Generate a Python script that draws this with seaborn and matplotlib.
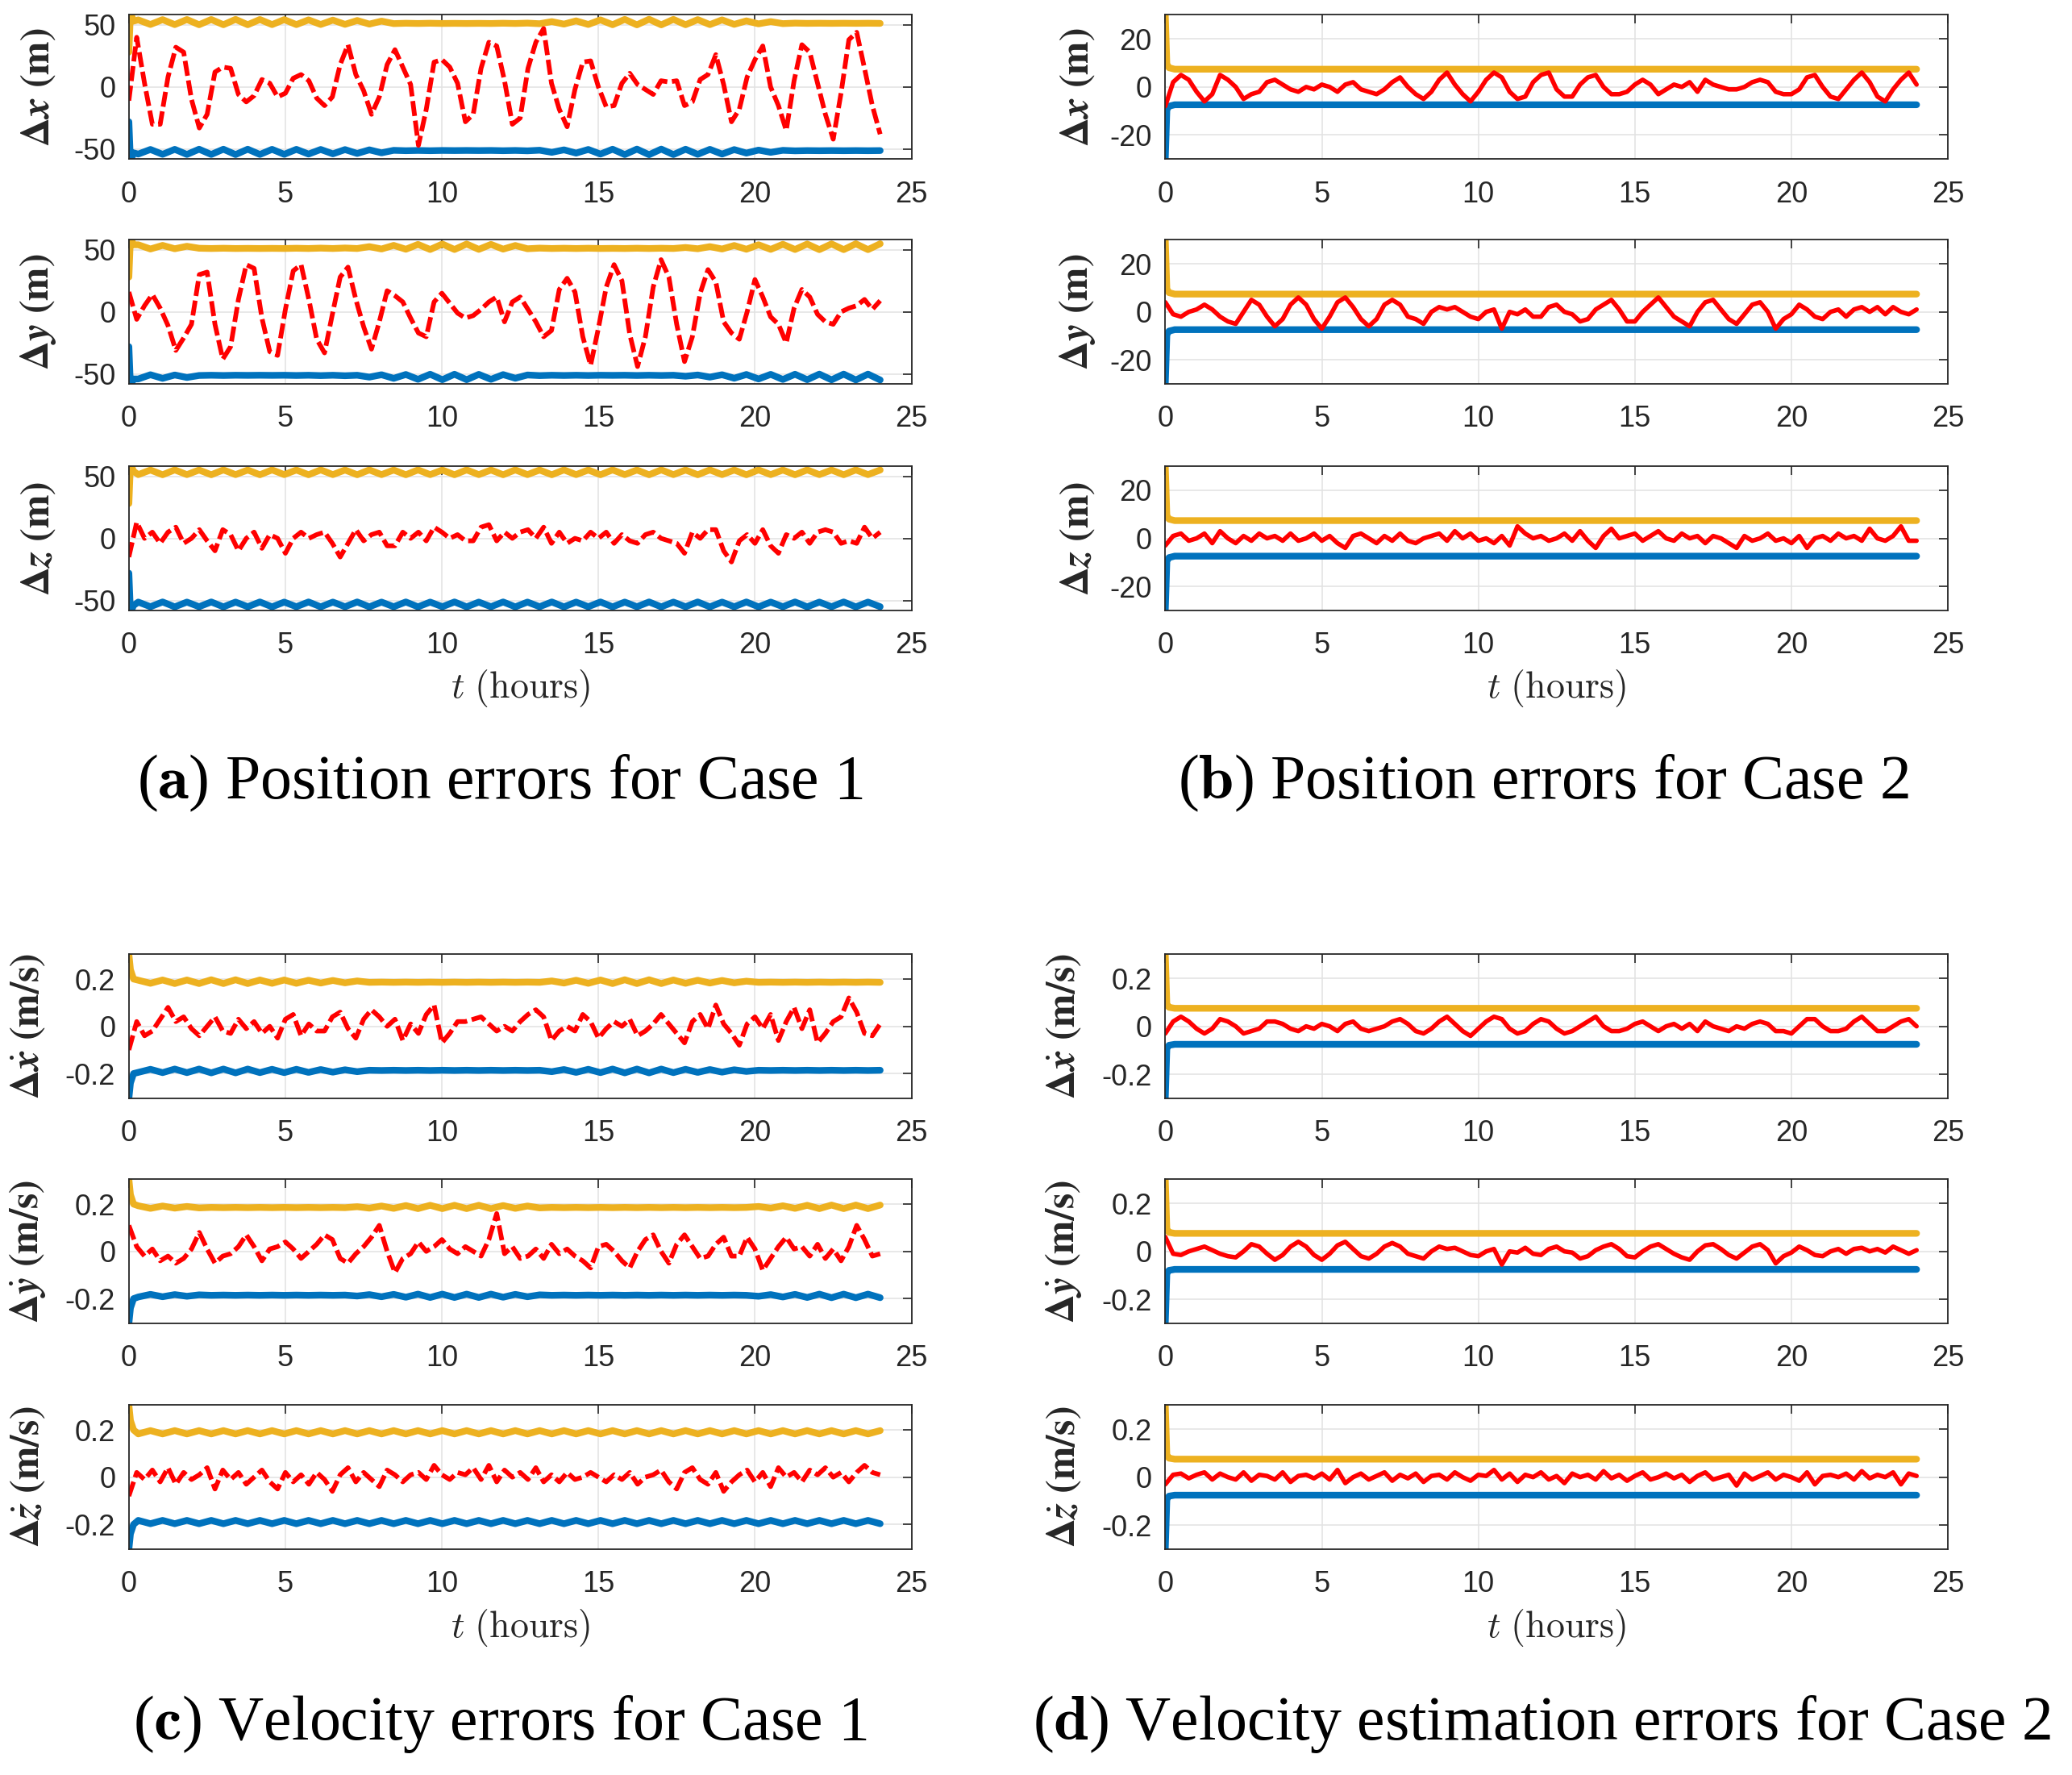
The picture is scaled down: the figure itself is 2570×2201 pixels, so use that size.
import numpy as np
import pandas as pd
import matplotlib
matplotlib.use('Agg')
import matplotlib.pyplot as plt
import seaborn as sns

# time axes (hours)
t_err = np.linspace(0, 24, 97)
t_bnd_c1 = np.concatenate([[0.0, 0.05, 0.15], np.linspace(0.3, 24, 62)])
t_bnd_c2 = np.array([0.0, 0.05, 0.12, 0.3, 24.0])

# ---------- Case 1 position errors (m), red dashed
dx_c1 = [-11, 40, 3, -30, -30, 8, 32, 28, -10, -33, -22, 12,
         16, 15, -6, -12, -7, 6, 3, -8, -5, 7, 10, 5,
         -9, -15, -8, 18, 34, 10, -3, -22, -8, 18, 30, 16,
         2, -47, -18, 20, 22, 16, 3, -28, -22, 15, 36, 33,
         5, -30, -25, 15, 36, 47, 3, -18, -32, -2, 20, 21,
         0, -16, -15, 3, 11, 2, -2, -6, 5, 4, 5, -15,
         -12, 6, 10, 26, 2, -28, -18, 8, 22, 33, 0, -15,
         -35, 5, 34, 28, 3, -22, -42, -5, 38, 44, 15, -15,
         -38]
dy_c1 = [16, -6, 5, 14, 3, -11, -31, -21, -10, 30, 32, -10,
         -38, -28, 10, 38, 35, -5, -32, -35, 2, 33, 38, 10,
         -22, -33, -2, 28, 36, 10, -12, -30, -8, 17, 13, 8,
         -5, -17, -20, 8, 15, 7, -1, -5, -3, 2, 8, 12,
         -8, 8, 12, 2, -8, -20, -15, 18, 27, 16, -20, -43,
         -13, 20, 38, 25, -18, -44, -20, 20, 42, 28, -10, -40,
         -20, 15, 34, 24, -8, -17, -22, 0, 26, 12, -4, -10,
         -25, 3, 18, 12, -2, -8, -10, 0, 3, 5, 10, 2,
         9]
dz_c1 = [-15, 13, 0, 5, -4, 5, 9, -4, 0, 7, -2, -10,
         7, 3, -10, 0, 5, -8, 3, 0, -12, 0, 5, 0,
         3, 5, -4, -15, -4, 7, -2, 3, 5, -6, -6, 5,
         0, 5, -2, 9, 5, 0, 3, -2, -2, 9, 11, -2,
         5, 0, 5, 7, 0, 9, -4, 5, -4, 0, -2, 5,
         0, 5, -4, 3, -2, -4, 3, 5, 0, -2, -4, -12,
         5, 0, 7, 7, -10, -19, -2, 3, -4, 7, -6, -12,
         3, 0, 5, -4, 5, 7, 5, -4, -2, -4, 9, 0,
         5]

# 3-sigma bounds, Case 1 position (m)
sig_x_c1 = [28, 60, 53,
            54.0, 50.3, 54.2, 50.2, 54.3, 50.1, 54.3, 50.1, 54.4, 50.1, 54.3, 50.2,
            54.2, 50.2, 54.0, 50.3, 53.8, 50.4, 53.5, 50.6, 53.0,
            51.0, 51.3, 51.1, 51.3, 51.1, 51.2, 51.1, 51.2, 51.1, 51.3, 51.1, 51.4,
            50.9, 52.6, 50.6, 53.2,
            50.3, 54.0, 50.1, 54.4, 50.0, 54.5, 50.0, 54.4, 50.1, 54.2, 50.2, 54.0, 50.4,
            53.2, 50.8, 52.6, 51.0,
            51.4, 51.2, 51.3, 51.2, 51.3, 51.2, 51.3, 51.2]
sig_y_c1 = [28, 60, 54,
            54.0, 50.6, 53.5, 50.8, 52.8,
            51.2, 51.0, 51.2, 51.0, 51.1, 51.0, 51.1, 51.0, 51.2, 51.0, 51.3, 51.0, 51.4,
            51.0, 52.5, 50.6, 53.5, 50.4, 54.3, 50.2, 54.6, 50.2, 54.6, 50.3, 54.3, 50.5, 53.4, 50.8,
            51.3, 51.0, 51.2, 51.0, 51.2, 51.0, 51.1, 51.0, 51.2, 51.0, 51.2, 51.0,
            51.8, 50.8, 52.5,
            50.6, 53.4, 50.4, 54.0, 50.3, 54.4, 50.2, 54.6, 50.1, 54.7, 50.1, 54.8, 50.1, 54.8]
sig_z_c1 = [28, 60, 54,
            51.3, 55.0, 51.2, 55.1, 51.3, 55.0, 51.2, 55.1, 51.3, 55.0, 51.2, 55.1,
            51.3, 55.0, 51.2, 55.1, 51.3, 55.0, 51.2, 55.1, 51.3, 55.0, 51.2, 55.1,
            51.3, 55.0, 51.2, 55.1, 51.3, 55.0, 51.2, 55.1, 51.3, 55.0, 51.2, 55.1,
            51.3, 55.0, 51.2, 55.1, 51.3, 55.0, 51.2, 55.1, 51.3, 55.0, 51.2, 55.1,
            51.3, 55.0, 51.2, 55.1, 51.3, 55.0, 51.2, 55.1, 51.3, 55.0, 51.2, 55.1,
            51.3, 55.0]

# ---------- Case 2 position errors (m), red solid
dx_c2 = [-8, 2, 5, 3, -2, -6, -3, 5, 3, 0, -5, -3,
         -2, 2, 3, 1, -1, -2, 0, -1, 1, 0, -2, 1,
         2, -1, -2, -3, -1, 2, 4, 0, -3, -5, -2, 3,
         6, 1, -3, -6, -2, 3, 6, 4, -2, -5, -4, 2,
         5, 6, -1, -4, -4, 1, 4, 5, 0, -3, -3, -2,
         1, 3, 1, -3, -1, 1, 0, 2, -2, 3, 1, 0,
         -1, -1, 0, 2, 3, 2, -2, -3, -3, -1, 4, 5,
         0, -4, -5, -1, 3, 6, 2, -4, -6, -1, 3, 6,
         1]
dy_c2 = [4, -1, -2, 0, 1, 3, 1, -2, -4, -5, 0, 5,
         3, -2, -6, -3, 3, 6, 3, -3, -7, -2, 4, 6,
         2, -3, -6, -3, 3, 5, 3, -2, -3, -5, 0, 2,
         1, 2, 0, -2, -3, 0, 1, -7, 0, -1, 1, -2,
         -2, 2, 3, 0, -1, -4, -3, 1, 3, 5, 1, -4,
         -4, 0, 3, 6, 2, -2, -4, -6, 0, 4, 5, 1,
         -3, -5, -1, 3, 4, 0, -7, -3, -1, 3, 1, -2,
         -3, 0, 1, -2, 1, 2, 0, 2, -1, 2, 0, -1,
         1]
dz_c2 = [-3, 1, 2, -1, 0, 2, -2, 3, 0, -2, 1, -1,
         2, 0, 1, -1, 2, -1, 0, 2, -1, 1, -2, -4,
         1, 2, 0, -2, 1, -1, 2, -1, -2, 0, 1, 2,
         -1, 3, 0, 2, -1, 0, -2, 1, -3, 5, 2, 0,
         1, -1, 0, 2, -1, 3, -1, -4, 1, 4, 0, 1,
         2, -1, 1, 3, 0, -1, 2, 0, 1, -2, 1, 0,
         -2, -4, 1, -1, 0, 2, -1, 0, -2, 1, -4, 0,
         1, -1, 2, 0, 1, -1, 4, 0, -1, 1, 5, -1,
         -1]
sig_pos_c2 = [30, 9.5, 8.0, 7.4, 7.4]

# ---------- Case 1 velocity errors (m/s), red dashed
dvx_c1 = [-0.10, 0.02, -0.04, -0.02, 0.03, 0.08, 0.02, 0.04, -0.01, -0.04, 0.00, 0.04,
          -0.02, -0.03, 0.03, -0.01, 0.02, -0.03, 0.00, -0.05, 0.03, 0.05, -0.04, 0.01,
          -0.02, -0.02, 0.04, 0.06, -0.01, -0.05, 0.03, 0.07, 0.04, 0.00, 0.03, -0.06,
          0.01, -0.03, 0.05, 0.09, -0.07, -0.03, 0.02, 0.02, 0.03, 0.04, 0.01, -0.02,
          0.00, -0.02, 0.02, 0.05, 0.07, 0.04, -0.06, -0.02, 0.00, -0.02, 0.05, 0.02,
          -0.05, -0.01, 0.02, 0.00, 0.03, -0.04, -0.02, 0.01, 0.05, 0.01, -0.03, -0.07,
          0.02, 0.05, -0.01, 0.09, 0.01, -0.03, -0.08, 0.01, 0.04, -0.01, 0.05, -0.06,
          0.02, 0.08, -0.01, 0.07, -0.07, -0.03, 0.02, 0.04, 0.12, 0.06, -0.03, -0.04,
          0.01]
dvy_c1 = [0.11, 0.02, -0.02, 0.01, -0.04, -0.02, -0.05, -0.03, 0.01, 0.08, 0.01, -0.05,
          -0.02, -0.01, 0.02, 0.07, 0.02, -0.04, 0.01, 0.02, 0.04, 0.01, -0.03, 0.00,
          0.03, 0.07, 0.05, -0.03, -0.05, -0.01, 0.02, 0.06, 0.11, 0.00, -0.09, -0.03,
          -0.01, 0.04, 0.00, 0.02, 0.05, 0.01, -0.01, 0.02, 0.00, -0.02, 0.05, 0.16,
          -0.01, 0.02, -0.03, -0.02, 0.01, -0.03, 0.03, -0.01, 0.01, -0.02, -0.04, -0.07,
          0.02, 0.03, 0.00, -0.04, -0.07, 0.00, 0.05, 0.07, 0.00, -0.05, 0.03, 0.07,
          0.02, -0.03, -0.02, 0.03, 0.06, -0.02, -0.02, 0.06, 0.01, -0.08, -0.03, 0.02,
          0.06, 0.01, 0.02, -0.02, 0.03, -0.03, 0.01, -0.04, 0.02, 0.11, 0.05, -0.02,
          -0.01]
dvz_c1 = [-0.08, 0.02, -0.01, 0.03, -0.02, 0.04, -0.03, 0.02, -0.01, 0.01, 0.04, -0.05,
          0.03, -0.01, 0.02, -0.03, 0.00, 0.03, -0.02, -0.05, 0.02, -0.02, 0.01, -0.03,
          0.02, -0.01, -0.06, 0.01, 0.04, -0.02, 0.02, -0.01, -0.04, 0.03, 0.01, -0.02,
          0.01, 0.02, -0.01, 0.05, 0.01, -0.01, 0.02, 0.01, 0.04, -0.01, 0.05, -0.02,
          0.03, 0.00, 0.02, -0.01, 0.04, -0.02, 0.01, -0.02, 0.02, -0.01, 0.00, 0.02,
          0.00, -0.02, 0.01, -0.01, 0.02, -0.03, 0.00, 0.01, 0.03, -0.02, -0.05, 0.02,
          0.04, -0.01, -0.03, 0.02, -0.06, -0.02, 0.01, 0.03, -0.02, 0.02, -0.04, 0.04,
          0.00, 0.02, -0.02, 0.03, 0.01, 0.04, 0.00, 0.02, -0.02, 0.02, 0.05, 0.02,
          0.01]

# 3-sigma bounds, Case 1 velocity (m/s)
sig_vx_c1 = [0.305, 0.24, 0.2,
             0.195, 0.182, 0.196, 0.181, 0.196, 0.181, 0.197, 0.181, 0.197, 0.181, 0.196, 0.182,
             0.196, 0.182, 0.195, 0.183, 0.194, 0.184, 0.192,
             0.186, 0.187, 0.186, 0.187, 0.186, 0.187, 0.186, 0.187, 0.186, 0.187, 0.186, 0.187,
             0.186, 0.187, 0.186,
             0.192, 0.183, 0.195, 0.182, 0.196, 0.181, 0.197, 0.181, 0.197, 0.181, 0.196, 0.182,
             0.195, 0.183, 0.194, 0.184, 0.191,
             0.186, 0.187, 0.186, 0.187, 0.186, 0.187, 0.186, 0.187, 0.186, 0.187, 0.186]
sig_vy_c1 = [0.305, 0.24, 0.2,
             0.193, 0.182, 0.192, 0.183, 0.190, 0.184,
             0.186, 0.185, 0.186, 0.185, 0.186, 0.185, 0.186, 0.185, 0.186, 0.185, 0.186, 0.185,
             0.189, 0.183, 0.192, 0.182, 0.194, 0.181, 0.195, 0.181, 0.195, 0.181, 0.195, 0.181,
             0.194, 0.182, 0.192, 0.184,
             0.186, 0.185, 0.186, 0.185, 0.186, 0.185, 0.186, 0.185, 0.186, 0.185, 0.186, 0.185,
             0.186, 0.185, 0.186, 0.185, 0.186,
             0.190, 0.183, 0.193, 0.182, 0.195, 0.181, 0.196, 0.181, 0.196, 0.181, 0.196]
sig_vz_c1 = [0.305, 0.24, 0.2,
             0.183, 0.197, 0.183, 0.197, 0.183, 0.197, 0.183, 0.197, 0.183, 0.197, 0.183, 0.197,
             0.183, 0.197, 0.183, 0.197, 0.183, 0.197, 0.183, 0.197, 0.183, 0.197, 0.183, 0.197,
             0.183, 0.197, 0.183, 0.197, 0.183, 0.197, 0.183, 0.197, 0.183, 0.197, 0.183, 0.197,
             0.183, 0.197, 0.183, 0.197, 0.183, 0.197, 0.183, 0.197, 0.183, 0.197, 0.183, 0.197,
             0.183, 0.197, 0.183, 0.197, 0.183, 0.197, 0.183, 0.197, 0.183, 0.197, 0.183, 0.197,
             0.183, 0.197]

# ---------- Case 2 velocity errors (m/s), red solid
dvx_c2 = [-0.03, 0.02, 0.04, 0.02, -0.01, -0.03, -0.01, 0.03, 0.02, 0.00, -0.03, -0.02,
          -0.01, 0.02, 0.02, 0.01, -0.01, -0.02, 0.00, -0.01, 0.01, 0.00, -0.02, 0.01,
          0.02, -0.01, -0.02, -0.01, 0.00, 0.02, 0.03, 0.01, -0.02, -0.03, -0.01, 0.02,
          0.04, 0.01, -0.02, -0.04, -0.01, 0.02, 0.04, 0.03, -0.01, -0.03, -0.02, 0.01,
          0.03, 0.02, -0.01, -0.03, -0.02, 0.00, 0.02, 0.04, 0.00, -0.02, -0.02, -0.01,
          0.01, 0.02, 0.00, -0.02, 0.00, 0.01, -0.01, 0.01, -0.02, 0.02, 0.00, -0.01,
          -0.02, 0.00, -0.01, 0.01, 0.02, 0.01, -0.02, -0.02, -0.03, 0.00, 0.03, 0.03,
          0.00, -0.02, -0.02, -0.01, 0.02, 0.04, 0.01, -0.02, -0.02, 0.00, 0.02, 0.03,
          0.00]
dvy_c2 = [0.06, -0.01, -0.015, 0.0, 0.01, 0.02, 0.005, -0.01, -0.02, -0.025, 0.0, 0.03,
          0.02, -0.01, -0.035, -0.015, 0.02, 0.04, 0.02, -0.015, -0.035, -0.01, 0.025, 0.04,
          0.01, -0.02, -0.03, -0.01, 0.02, 0.035, 0.02, -0.01, -0.02, -0.03, 0.0, 0.02,
          0.01, 0.015, 0.0, -0.015, -0.02, 0.0, 0.01, -0.055, 0.0, -0.005, 0.015, -0.01,
          -0.015, 0.01, 0.02, 0.0, -0.005, -0.03, -0.02, 0.005, 0.02, 0.03, 0.01, -0.02,
          -0.025, 0.0, 0.02, 0.03, 0.01, -0.01, -0.025, -0.035, 0.0, 0.025, 0.03, 0.01,
          -0.015, -0.03, -0.005, 0.02, 0.03, 0.005, -0.05, -0.02, -0.005, 0.02, 0.005, -0.015,
          -0.02, 0.0, 0.01, -0.01, 0.01, 0.015, 0.0, 0.01, -0.005, 0.02, 0.005, -0.01,
          0.005]
dvz_c2 = [-0.03, 0.01, 0.015, -0.005, 0.01, 0.02, -0.01, 0.015, 0.0, -0.01, 0.02, -0.015,
          0.01, 0.005, -0.01, 0.02, -0.02, 0.005, 0.01, -0.005, 0.015, -0.01, 0.03, -0.025,
          0.0, 0.015, -0.01, 0.005, 0.02, -0.015, 0.01, -0.005, 0.015, -0.02, 0.005, 0.01,
          -0.01, 0.02, 0.0, -0.015, 0.01, 0.005, 0.03, -0.01, 0.015, -0.02, 0.01, 0.0,
          0.02, -0.01, 0.005, -0.025, 0.015, 0.0, 0.01, -0.01, 0.025, -0.005, 0.01, -0.015,
          0.005, 0.02, -0.01, 0.0, 0.015, -0.005, 0.01, -0.02, 0.005, 0.02, -0.01, 0.0,
          0.01, -0.035, 0.015, -0.01, 0.005, 0.02, -0.01, 0.01, 0.0, -0.015, 0.02, -0.03,
          0.005, 0.01, 0.0, 0.015, -0.01, 0.025, -0.005, 0.01, 0.0, 0.02, -0.03, 0.015,
          0.005]
sig_vel_c2 = [0.3, 0.09, 0.079, 0.075, 0.075]

# labels
pos_labels = [r'$\mathbf{\Delta}\mathbfit{x}\ \mathbf{(m)}$',
              r'$\mathbf{\Delta}\mathbfit{y}\ \mathbf{(m)}$',
              r'$\mathbf{\Delta}\mathbfit{z}\ \mathbf{(m)}$']
vel_labels = [r'$\mathbf{\Delta}\dot{\mathbfit{x}}\ \mathbf{(m/s)}$',
              r'$\mathbf{\Delta}\dot{\mathbfit{y}}\ \mathbf{(m/s)}$',
              r'$\mathbf{\Delta}\dot{\mathbfit{z}}\ \mathbf{(m/s)}$']
captions = [r'($\mathbf{a}$) Position errors for Case 1',
            r'($\mathbf{b}$) Position errors for Case 2',
            r'($\mathbf{c}$) Velocity errors for Case 1',
            r'($\mathbf{d}$) Velocity estimation errors for Case 2']

YELLOW = '#EDB120'
BLUE = '#0072BD'
RED = '#FF0000'

sns.set_theme(style='white')
plt.rcParams['font.family'] = ['Liberation Sans', 'DejaVu Sans']
plt.rcParams['axes.unicode_minus'] = False

fig = plt.figure(figsize=(25.7, 22.01), dpi=100)

col_left = [0.0622, 0.5624]
col_w = 0.3777
row_bottom = [0.9104, 0.7837, 0.6561, 0.3812, 0.2544, 0.1272]
row_h = 0.0812


def panel(ax, t_b, sig, err, dashed, ylim, yticks, ylabel, lab_x):
    sig = np.asarray(sig, dtype=float)
    bnd = pd.DataFrame({'t': t_b, 'up': sig, 'lo': -sig})
    sns.lineplot(data=bnd, x='t', y='up', ax=ax, color=YELLOW, lw=6,
                 estimator=None, sort=False)
    sns.lineplot(data=bnd, x='t', y='lo', ax=ax, color=BLUE, lw=6,
                 estimator=None, sort=False)
    sns.lineplot(x=t_err, y=np.asarray(err, dtype=float), ax=ax, color=RED,
                 lw=4.2 if dashed else 4.0, estimator=None, sort=False)
    if dashed:
        ax.lines[-1].set_linestyle((0, (3.2, 1.0)))
    ax.set_xlim(0, 25)
    ax.set_ylim(*ylim)
    ax.set_xticks([0, 5, 10, 15, 20, 25])
    ax.set_yticks(yticks)
    ax.set_yticklabels([f'{v:g}' for v in yticks])
    ax.grid(True, color='#e2e2e2', lw=1.1)
    ax.tick_params(axis='both', direction='in', length=8, width=1.2,
                   top=True, right=True, labelsize=26, colors='#262626')
    ax.tick_params(axis='x', pad=19)
    ax.tick_params(axis='y', pad=12)
    for s in ax.spines.values():
        s.set_color('#262626')
        s.set_linewidth(1.3)
    ax.set_xlabel('')
    ax.set_ylabel(ylabel, fontsize=36, math_fontfamily='stix', color='#262626')
    ax.yaxis.set_label_coords(lab_x, 0.5)


pos_c1 = [(dx_c1, sig_x_c1), (dy_c1, sig_y_c1), (dz_c1, sig_z_c1)]
pos_c2 = [dx_c2, dy_c2, dz_c2]
vel_c1 = [(dvx_c1, sig_vx_c1), (dvy_c1, sig_vy_c1), (dvz_c1, sig_vz_c1)]
vel_c2 = [dvx_c2, dvy_c2, dvz_c2]

for i in range(3):
    ax = fig.add_axes([col_left[0], row_bottom[i], col_w, row_h])
    panel(ax, t_bnd_c1, pos_c1[i][1], pos_c1[i][0], True, (-58, 58),
          [-50, 0, 50], pos_labels[i], -0.090)
    ax = fig.add_axes([col_left[1], row_bottom[i], col_w, row_h])
    panel(ax, t_bnd_c2, sig_pos_c2, pos_c2[i], False, (-30, 30),
          [-20, 0, 20], pos_labels[i], -0.087)
    ax = fig.add_axes([col_left[0], row_bottom[i + 3], col_w, row_h])
    panel(ax, t_bnd_c1, vel_c1[i][1], vel_c1[i][0], True, (-0.305, 0.305),
          [-0.2, 0, 0.2], vel_labels[i], -0.104)
    ax = fig.add_axes([col_left[1], row_bottom[i + 3], col_w, row_h])
    panel(ax, t_bnd_c2, sig_vel_c2, vel_c2[i], False, (-0.3, 0.3),
          [-0.2, 0, 0.2], vel_labels[i], -0.104)

# x labels under the last row of each block
for cx in [col_left[0] + col_w / 2, col_left[1] + col_w / 2]:
    for yb in [0.607, 0.0777]:
        fig.text(cx, yb, r'$t\ \mathrm{(hours)}$', ha='center', va='baseline',
                 fontsize=33, math_fontfamily='cm', color='#262626')

# sub-figure captions
cap_pos = [(0.2414, 0.5502), (0.745, 0.5502), (0.2414, 0.020), (0.744, 0.020)]
for (cx, cy), txt in zip(cap_pos, captions):
    fig.text(cx, cy, txt, ha='center', va='baseline', fontsize=56,
             family='Liberation Serif', math_fontfamily='cm', color='black')

fig.savefig('out.png', dpi=100, facecolor='white')
